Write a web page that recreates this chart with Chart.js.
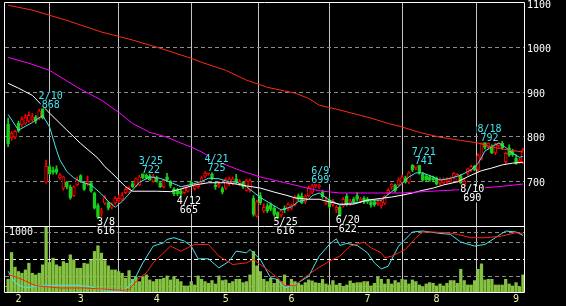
<!DOCTYPE html>
<html>
<head>
<meta charset="utf-8">
<script src="https://cdn.jsdelivr.net/npm/chart.js@4.4.1/dist/chart.umd.min.js"></script>
<style>
  html, body { margin: 0; padding: 0; background: #000; }
  canvas { display: block; }
</style>
</head>
<body>
<canvas id="stockchart" width="566" height="306"></canvas>
<script>

// daily candles, one per trading day
var opens = [
  828,798,800,830,827,830,835,838,845,842,
  866,698,733,725,728,708,685,698,688,668,
  692,713,695,696,697,674,646,628,651,652,
  642,652,656,660,675,676,695,690,692,720,
  714,712,700,708,697,688,710,700,682,680,
  678,675,678,698,684,688,698,712,718,716,
  692,690,684,685,695,695,706,695,698,680,
  680,662,622,668,634,645,648,640,630,625,
  640,638,640,648,668,667,654,668,676,690,
  688,676,651,658,648,636,642,645,667,650,
  660,668,656,662,660,654,655,650,645,651,
  674,687,692,692,697,708,698,736,730,740,
  716,712,710,708,707,696,697,700,700,709,
  700,712,694,718,725,734,727,750,790,776,
  778,764,780,786,744,775,768,752,744,742];
var highs = [
  842,812,815,835,845,850,856,852,848,862,
  868,748,738,732,735,718,712,700,692,690,
  710,715,698,712,700,676,650,640,668,655,
  652,666,670,675,686,688,700,708,714,722,
  720,716,716,712,700,705,718,702,686,684,
  682,690,692,702,694,696,712,722,725,720,
  698,700,688,708,710,710,716,704,700,705,
  706,668,658,675,650,650,652,644,632,638,
  645,652,650,668,672,674,670,690,699,696,
  696,680,666,664,660,646,645,664,672,660,
  664,675,664,666,664,656,658,658,658,668,
  684,695,694,708,714,712,722,738,741,740,
  720,716,714,712,710,708,708,708,710,720,
  718,716,706,730,736,736,762,792,790,790,
  782,786,790,790,766,782,772,760,752,774];
var lows = [
  778,792,795,810,822,828,832,834,830,838,
  840,696,715,716,716,705,680,683,660,666,
  690,698,680,690,676,638,616,622,648,636,
  638,648,652,656,672,674,686,688,690,706,
  705,702,698,698,686,685,700,686,668,668,
  665,672,676,688,680,684,694,708,714,704,
  682,686,672,682,690,692,694,690,684,678,
  676,622,620,648,630,630,634,622,616,620,
  630,634,636,645,656,650,650,665,672,686,
  684,662,648,640,644,630,622,642,645,646,
  650,656,652,650,650,642,644,646,640,648,
  670,682,676,690,694,696,695,722,726,716,
  700,700,700,700,692,692,694,696,698,705,
  698,695,690,714,722,724,722,748,772,772,
  762,760,776,772,740,756,756,738,740,740];
var closes = [
  784,808,812,813,840,843,848,845,836,858,
  842,734,717,720,720,714,710,688,663,688,
  703,700,682,700,678,640,620,634,664,640,
  648,662,662,668,682,684,688,706,710,708,
  708,704,712,700,688,702,704,690,672,672,
  672,688,690,692,690,693,708,718,724,708,
  688,694,676,705,705,706,698,700,688,702,
  702,626,654,652,642,634,638,626,618,634,
  636,648,646,664,660,652,666,686,690,694,
  692,666,658,643,656,642,624,660,648,656,
  654,660,660,654,654,647,648,654,655,667,
  680,694,680,703,710,698,720,725,738,719,
  703,704,702,704,694,704,704,704,706,718,
  716,697,700,728,733,726,758,786,776,786,
  764,784,786,775,763,759,760,740,748,770];
var volumes = [
  228,672,428,356,328,383,494,328,300,328,
  467,1105,506,578,467,439,522,494,633,550,
  411,411,494,483,550,689,783,661,539,450,
  383,383,356,328,244,372,228,272,189,272,
  300,217,189,228,228,244,283,217,272,228,
  189,117,117,189,133,283,228,189,161,206,
  150,283,206,217,161,189,228,228,172,189,
  300,689,450,356,228,189,244,161,228,189,
  300,106,228,189,161,133,172,217,200,172,
  161,228,150,133,206,133,161,106,133,200,
  161,172,172,189,189,117,161,261,228,150,
  228,150,206,172,228,217,150,217,189,133,
  106,150,172,161,117,150,117,161,206,206,
  161,394,206,133,133,206,394,483,217,228,
  228,133,133,133,228,150,117,172,106,300];

// moving averages (day index / price)
var maShortIdx = [0,3,7,10,12,14,15,17,19,21,24,27,29,31,33,35,38,41,44,47,50,53,56,58,61,64,66,69,73,76,79,82,84,87,88,90,93,96,99,102,104,108,111,113,116,118,120,123,125,128,131,134,136,138,140,142,144,146,148,149];
var maShort = [850,815,832,848,822,770,748,722,708,699,692,672,655,642,655,672,698,710,707,698,688,693,700,707,706,699,699,688,664,650,636,643,655,660,668,674,658,647,651,654,658,658,677,688,710,719,719,710,703,707,714,726,740,768,778,786,776,763,754,756];
var maMidIdx = [0,3,7,12,17,21,26,28,30,34,36,43,47,51,54,58,63,66,69,73,77,81,83,87,90,93,96,100,104,108,111,114,117,120,123,126,130,134,137,140,143,146,149];
var maMid = [920,909,893,853,815,785,752,733,719,688,678,678,677,685,692,697,697,694,690,685,676,668,663,660,660,654,649,649,658,662,665,669,674,680,685,692,699,714,724,730,737,741,743];
var maLongIdx = [0,6,12,20,27,32,36,41,46,50,53,56,61,67,73,79,85,90,96,104,114,120,130,137,143,149];
var maLong = [978,965,949,911,882,855,830,810,799,786,777,766,743,725,710,699,688,679,674,674,674,677,681,685,689,694];
var maYearIdx = [0,7,17,27,36,43,53,56,63,69,75,83,87,90,96,102,105,110,114,119,125,131,136,140,145,149];
var maYear = [1095,1084,1061,1035,1017,1001,976,967,949,927,911,898,886,871,860,848,842,830,822,810,799,792,786,777,770,766];

// oscillators in the lower panel
var oscAIdx = [0,2,5,10,15,20,23,27,29,33,35,37,39,42,45,46,48,51,53,55,58,61,64,66,69,70,73,76,78,80,83,87,90,93,95,96,98,101,104,106,108,110,113,117,120,125,128,131,135,138,141,144,147,149];
var oscA = [-35,-70,-85,-77,-77,-77,-80,-90,-95,-95,-80,-50,-10,40,50,60,65,55,40,2,2,-25,-5,25,20,30,0,-55,-60,-85,-75,-50,10,45,62,42,48,42,20,-10,-28,-20,40,82,85,78,75,52,40,45,65,85,82,72];
var oscBIdx = [0,3,8,15,22,27,33,35,38,40,42,47,50,52,54,58,61,65,69,71,75,78,80,83,85,89,93,96,99,103,105,108,109,111,115,118,120,123,127,130,134,138,143,147,149];
var oscB = [-45,-55,-78,-85,-85,-88,-92,-90,-55,-40,-10,40,25,35,45,45,10,-15,-10,0,-30,-55,-78,-78,-60,-30,-5,10,40,52,35,20,5,10,30,65,82,82,80,75,65,65,70,80,78];

// axis ticks
var monthStart = [3,21,43,63,82,104,124,147];
var monthLabels = ['2','3','4','5','6','7','8','9'];
var priceTicks = [700,800,900,1000,1100];
var oscTicks = [-80,-50,0,50,80];
var volTicks = [1000];

// high / low marks
var markIdx = [10,26,39,50,58,78,88,96,118,132,137];
var markDate = ['2/10','3/8','3/25','4/12','4/21','5/25','6/9','6/20','7/21','8/10','8/18'];
var markHigh = [true,false,true,false,true,false,true,false,true,false,true];


var RED = '#ff0000';
var GREEN = '#18d018';
var CYAN = '#48e4ec';

// panel geometry: lower panel takes 67 of the 290px plot height
var AREA_H = 290, LOW_H = 67, MAIN_H = AREA_H - LOW_H;
var priceMin = 600 - 500 * LOW_H / MAIN_H;
var oscMax = -100 + 200 * AREA_H / LOW_H;
var volMax = 1000 * (200 / 180) * AREA_H / LOW_H;

Chart.defaults.font.family = '"DejaVu Sans Mono", monospace';
Chart.defaults.font.size = 10;
Chart.defaults.color = '#ffffff';

var days = closes.map(function(c, i) { return i; });
function isUp(i) { return closes[i] >= opens[i]; }
function pts(xs, ys) { return xs.map(function(x, k) { return { x: x, y: ys[k] }; }); }
function lineSet(xs, ys, color, axis) {
  return { type: 'line', data: pts(xs, ys), borderColor: color, borderWidth: 1,
           pointRadius: 0, tension: 0, yAxisID: axis, order: 0 };
}
function onlyTicks(list) {
  return function(scale) { scale.ticks = list.map(function(v) { return { value: v }; }); };
}
function noPad(scale) { scale.paddingTop = 0; scale.paddingBottom = 0; scale.paddingLeft = 0; scale.paddingRight = 0; }

function drawTag(ctx, text, cx, cy, color) {
  var w = ctx.measureText(text).width;
  ctx.fillStyle = '#000';
  ctx.fillRect(cx - w / 2 - 1, cy - 3.5, w + 2, 7);
  ctx.fillStyle = color;
  ctx.fillText(text, cx, cy);
}

const marksPlugin = {
  id: 'marks',
  afterDatasetsDraw: function(chart) {
    var ctx = chart.ctx, a = chart.chartArea;
    var xs = chart.scales.x, ys = chart.scales.y;
    ctx.save();
    ctx.setLineDash([]);
    ctx.strokeStyle = '#ffffff';
    ctx.lineWidth = 1;
    var split = Math.floor(ys.getPixelForValue(600)) + 0.5;
    ctx.beginPath();
    ctx.rect(a.left - 0.5, a.top - 0.5, a.right - a.left + 1, a.bottom - a.top);
    ctx.moveTo(a.left, split);
    ctx.lineTo(a.right, split);
    ctx.stroke();

    ctx.font = '10px "DejaVu Sans Mono"';
    ctx.textAlign = 'center';
    ctx.textBaseline = 'middle';
    for (var k = 0; k < markIdx.length; k++) {
      var i = markIdx[k];
      var cx = xs.getPixelForValue(i) + 8;
      var val = markHigh[k] ? highs[i] : lows[i];
      var py = ys.getPixelForValue(val);
      var color = markHigh[k] ? CYAN : '#ffffff';
      if (markHigh[k]) {
        drawTag(ctx, markDate[k], cx, py - 10.5, color);
        drawTag(ctx, String(val), cx, py - 1.5, color);
      } else {
        drawTag(ctx, markDate[k], cx, py + 4, color);
        drawTag(ctx, String(val), cx, py + 13, color);
      }
    }
    ctx.restore();
  }
};

const config = {
  type: 'bar',
  data: {
    datasets: [
      lineSet(maYearIdx, maYear, '#ff2a10', 'y'),
      lineSet(maLongIdx, maLong, '#ff00ff', 'y'),
      lineSet(maMidIdx, maMid, '#ffffff', 'y'),
      lineSet(maShortIdx, maShort, CYAN, 'y'),
      lineSet(oscBIdx, oscB, '#ff2010', 'yo'),
      lineSet(oscAIdx, oscA, CYAN, 'yo'),
      {
        // candle bodies
        type: 'bar',
        data: days.map(function(i) { return { x: i, y: [opens[i], closes[i]] }; }),
        backgroundColor: days.map(function(i) { return isUp(i) ? '#000000' : GREEN; }),
        borderColor: days.map(function(i) { return isUp(i) ? RED : GREEN; }),
        borderWidth: 1,
        borderSkipped: false,
        minBarLength: 1,
        barThickness: 3,
        grouped: false,
        yAxisID: 'y',
        order: 2
      },
      {
        // wicks
        type: 'bar',
        data: days.map(function(i) { return { x: i, y: [lows[i], highs[i]] }; }),
        backgroundColor: days.map(function(i) { return isUp(i) ? RED : GREEN; }),
        borderWidth: 0,
        barThickness: 1,
        grouped: false,
        yAxisID: 'y',
        order: 3
      },
      {
        // volume
        type: 'bar',
        data: days.map(function(i) { return { x: i, y: volumes[i] }; }),
        backgroundColor: '#86c242',
        borderWidth: 0,
        barThickness: 2.6,
        grouped: false,
        yAxisID: 'yv',
        order: 4
      }
    ]
  },
  options: {
    responsive: false,
    animation: false,
    devicePixelRatio: 1,
    layout: { autoPadding: false, padding: { left: 5, top: 3, right: 0, bottom: 0 } },
    plugins: { legend: { display: false }, tooltip: { enabled: false } },
    scales: {
      x: {
        type: 'linear', min: -0.9, max: 149.3, offset: false,
        afterBuildTicks: onlyTicks(monthStart),
        afterFit: function(s) { s.height = 13; noPad(s); },
        ticks: {
          color: '#f0f0a8', padding: 0, autoSkip: false, maxRotation: 0,
          callback: function(v) { return monthLabels[monthStart.indexOf(v)]; }
        },
        grid: { color: '#c4c4c4', drawTicks: false },
        border: { display: false }
      },
      y: {
        position: 'right', weight: 1, min: priceMin, max: 1100,
        afterBuildTicks: onlyTicks(priceTicks),
        afterFit: function(s) { s.width = 42; noPad(s); },
        ticks: { color: '#ffffff', padding: 3, labelOffset: 2, callback: function(v) { return String(v); } },
        grid: {
          color: function(c) { return c.tick && c.tick.value === 1100 ? 'rgba(0,0,0,0)' : '#8c8c8c'; },
          drawTicks: false, borderDash: [4, 3]
        },
        border: { display: false, dash: [4, 3] }
      },
      yo: {
        position: 'right', weight: 0, min: -100, max: oscMax,
        afterBuildTicks: onlyTicks(oscTicks),
        afterFit: function(s) { s.width = 0; noPad(s); },
        ticks: { color: '#ffffff', padding: 3, callback: function(v) { return String(v); } },
        grid: {
          color: function(c) { return c.tick && c.tick.value === 0 ? '#ffffff' : '#8c8c8c'; },
          drawTicks: false, borderDash: [4, 3]
        },
        border: { display: false, dash: [4, 3] }
      },
      yv: {
        position: 'left', min: 0, max: volMax,
        afterBuildTicks: onlyTicks(volTicks),
        afterFit: function(s) { s.width = 0; noPad(s); },
        ticks: {
          mirror: true, padding: 4, color: '#ffffff',
          showLabelBackdrop: true, backdropColor: '#000000', backdropPadding: 1,
          callback: function(v) { return String(v); }
        },
        grid: { display: false, drawTicks: false },
        border: { display: false }
      }
    }
  },
  plugins: [marksPlugin]
};

const stockChart = new Chart(document.getElementById('stockchart').getContext('2d'), config);
</script>
</body>
</html>
